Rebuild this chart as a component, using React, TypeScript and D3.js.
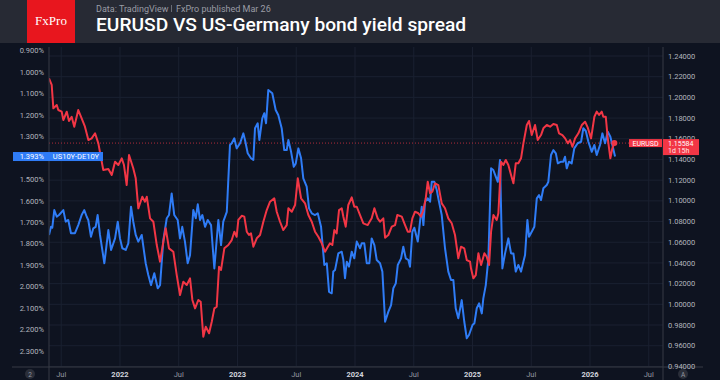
import React from 'react';
import * as d3 from 'd3';

// ---- data (dates as decimal years) ----
const redDates = [2021.396,2021.419,2021.433,2021.462,2021.475,2021.504,2021.518,2021.547,2021.566,2021.589,2021.611,2021.645,2021.674,2021.702,2021.731,2021.759,2021.788,2021.816,2021.858,2021.901,2021.930,2021.958,2021.986,2022.015,2022.034,2022.057,2022.077,2022.113,2022.134,2022.156,2022.190,2022.213,2022.228,2022.256,2022.284,2022.313,2022.341,2022.369,2022.389,2022.417,2022.454,2022.483,2022.511,2022.539,2022.568,2022.596,2022.616,2022.639,2022.667,2022.687,2022.709,2022.730,2022.758,2022.781,2022.803,2022.823,2022.843,2022.860,2022.888,2022.922,2022.951,2022.973,2022.993,2023.007,2023.036,2023.058,2023.079,2023.098,2023.115,2023.135,2023.164,2023.192,2023.220,2023.249,2023.277,2023.313,2023.334,2023.362,2023.390,2023.419,2023.433,2023.462,2023.490,2023.513,2023.541,2023.575,2023.603,2023.632,2023.660,2023.688,2023.717,2023.745,2023.768,2023.787,2023.807,2023.824,2023.844,2023.864,2023.887,2023.901,2023.921,2023.943,2023.972,2023.994,2024.015,2024.043,2024.071,2024.108,2024.142,2024.165,2024.193,2024.213,2024.241,2024.256,2024.284,2024.313,2024.341,2024.360,2024.398,2024.426,2024.449,2024.468,2024.488,2024.511,2024.539,2024.562,2024.582,2024.602,2024.619,2024.639,2024.658,2024.681,2024.709,2024.738,2024.766,2024.794,2024.823,2024.851,2024.879,2024.902,2024.930,2024.951,2024.979,2024.987,2025.007,2025.028,2025.050,2025.073,2025.101,2025.121,2025.141,2025.158,2025.178,2025.206,2025.220,2025.243,2025.262,2025.283,2025.305,2025.328,2025.348,2025.368,2025.390,2025.413,2025.433,2025.462,2025.481,2025.504,2025.532,2025.555,2025.583,2025.603,2025.632,2025.660,2025.688,2025.717,2025.736,2025.765,2025.788,2025.811,2025.830,2025.850,2025.873,2025.901,2025.930,2025.958,2025.981,2026.009,2026.037,2026.057,2026.077,2026.100,2026.113,2026.134,2026.151,2026.173,2026.190,2026.207];
const redValues = [1.2184,1.2120,1.1894,1.1926,1.1878,1.1862,1.1781,1.1862,1.1772,1.1813,1.1717,1.1878,1.1798,1.1717,1.1588,1.1604,1.1653,1.1556,1.1298,1.1308,1.1250,1.1378,1.1346,1.1411,1.1346,1.1153,1.1443,1.1315,1.1218,1.0928,1.1040,1.0992,1.1040,1.0831,1.0798,1.0573,1.0412,1.0605,1.0735,1.0541,1.0508,1.0283,1.0090,1.0218,1.0187,1.0251,1.0042,0.9961,1.0042,1.0025,0.9687,0.9783,0.9720,0.9832,0.9961,0.9977,1.0363,1.0332,1.0541,1.0573,1.0621,1.0702,1.0653,1.0815,1.0856,1.0847,1.0702,1.0670,1.0686,1.0557,1.0638,1.0670,1.0798,1.0911,1.0992,1.1025,1.0895,1.0798,1.0718,1.0766,1.0928,1.0895,1.0960,1.1218,1.1025,1.0976,1.0863,1.0798,1.0702,1.0653,1.0590,1.0508,1.0554,1.0590,1.0573,1.0718,1.0686,1.0911,1.0928,1.0847,1.0750,1.0960,1.1034,1.0943,1.0943,1.0863,1.0783,1.0766,1.0831,1.0928,1.0831,1.0798,1.0831,1.0644,1.0670,1.0750,1.0766,1.0863,1.0847,1.0766,1.0702,1.0702,1.0831,1.0895,1.0880,1.0847,1.0911,1.1025,1.1185,1.1073,1.1088,1.1170,1.1153,1.0976,1.0928,1.0831,1.0783,1.0670,1.0445,1.0557,1.0541,1.0428,1.0412,1.0348,1.0251,1.0283,1.0493,1.0380,1.0493,1.0460,1.0380,1.0702,1.0863,1.0815,1.0880,1.1378,1.1346,1.1395,1.1346,1.1250,1.1170,1.1363,1.1363,1.1411,1.1556,1.1733,1.1772,1.1636,1.1733,1.1588,1.1636,1.1701,1.1733,1.1717,1.1743,1.1733,1.1653,1.1636,1.1604,1.1556,1.1588,1.1523,1.1604,1.1653,1.1733,1.1765,1.1707,1.1604,1.1813,1.1862,1.1830,1.1862,1.1813,1.1813,1.1604,1.1411,1.1508,1.15584];

const blueDates = [2021.396,2021.413,2021.424,2021.441,2021.462,2021.481,2021.518,2021.538,2021.560,2021.583,2021.617,2021.645,2021.674,2021.696,2021.717,2021.730,2021.753,2021.773,2021.793,2021.810,2021.830,2021.867,2021.901,2021.924,2021.958,2021.981,2022.000,2022.020,2022.049,2022.071,2022.094,2022.113,2022.134,2022.156,2022.185,2022.219,2022.241,2022.264,2022.292,2022.321,2022.341,2022.369,2022.398,2022.417,2022.440,2022.462,2022.491,2022.511,2022.530,2022.553,2022.576,2022.596,2022.624,2022.645,2022.662,2022.681,2022.701,2022.724,2022.747,2022.775,2022.803,2022.837,2022.860,2022.879,2022.909,2022.936,2022.951,2022.973,2022.993,2023.022,2023.050,2023.064,2023.087,2023.115,2023.135,2023.149,2023.172,2023.186,2023.211,2023.228,2023.243,2023.262,2023.296,2023.325,2023.347,2023.376,2023.398,2023.419,2023.433,2023.456,2023.479,2023.496,2023.518,2023.541,2023.560,2023.589,2023.609,2023.632,2023.660,2023.683,2023.711,2023.739,2023.760,2023.779,2023.802,2023.815,2023.830,2023.858,2023.887,2023.901,2023.915,2023.930,2023.949,2023.972,2023.994,2024.015,2024.043,2024.057,2024.079,2024.100,2024.122,2024.142,2024.165,2024.185,2024.213,2024.233,2024.256,2024.284,2024.307,2024.326,2024.347,2024.364,2024.392,2024.411,2024.432,2024.454,2024.468,2024.488,2024.505,2024.534,2024.568,2024.582,2024.596,2024.619,2024.639,2024.653,2024.675,2024.696,2024.709,2024.738,2024.766,2024.794,2024.817,2024.837,2024.857,2024.879,2024.908,2024.930,2024.951,2024.970,2025.000,2025.016,2025.036,2025.056,2025.079,2025.092,2025.113,2025.135,2025.158,2025.177,2025.198,2025.215,2025.234,2025.254,2025.277,2025.305,2025.328,2025.348,2025.368,2025.390,2025.413,2025.433,2025.447,2025.467,2025.481,2025.504,2025.526,2025.547,2025.566,2025.583,2025.603,2025.632,2025.645,2025.668,2025.688,2025.709,2025.726,2025.753,2025.773,2025.787,2025.802,2025.821,2025.844,2025.866,2025.895,2025.924,2025.943,2025.964,2025.986,2026.015,2026.037,2026.057,2026.085,2026.105,2026.128,2026.151,2026.173,2026.190,2026.213];
const blueValues = [1.759,1.721,1.725,1.643,1.674,1.666,1.643,1.697,1.689,1.751,1.751,1.713,1.666,1.643,1.674,1.689,1.767,1.728,1.721,1.666,1.759,1.891,1.736,1.829,1.775,1.697,1.775,1.821,1.829,1.798,1.627,1.697,1.759,1.790,1.759,1.891,1.946,1.993,1.938,2.008,1.993,1.783,1.681,1.666,1.565,1.666,1.689,1.775,1.721,1.790,1.891,1.853,1.643,1.681,1.616,1.689,1.666,1.721,1.689,1.713,1.915,1.689,1.806,1.697,1.651,1.339,1.331,1.308,1.355,1.331,1.285,1.316,1.378,1.401,1.409,1.261,1.238,1.316,1.215,1.191,1.238,1.083,1.098,1.176,1.199,1.261,1.363,1.363,1.316,1.371,1.441,1.425,1.355,1.401,1.495,1.534,1.635,1.658,1.666,1.658,1.721,1.899,1.891,2.024,2.031,1.930,1.923,1.845,1.837,1.876,1.961,1.884,1.907,1.837,1.868,1.790,1.821,1.798,1.798,1.891,1.891,1.775,1.806,1.876,1.891,1.930,2.164,2.117,2.086,2.008,1.985,1.899,1.868,1.814,1.868,1.876,1.907,1.744,1.725,1.790,1.627,1.713,1.604,1.588,1.604,1.511,1.511,1.549,1.588,1.666,1.821,1.930,1.969,1.969,2.101,2.148,2.063,2.164,2.241,2.226,2.179,2.171,2.101,2.078,2.125,2.055,1.993,1.868,1.448,1.456,1.487,1.511,1.409,1.915,1.845,1.775,1.845,1.845,1.930,1.899,1.930,1.884,1.853,1.689,1.767,1.744,1.721,1.588,1.573,1.596,1.541,1.526,1.511,1.386,1.363,1.378,1.425,1.417,1.417,1.394,1.448,1.417,1.425,1.355,1.331,1.324,1.261,1.274,1.324,1.371,1.339,1.386,1.339,1.285,1.331,1.277,1.301,1.339,1.393];

const leftTicks = [0.9,1.0,1.1,1.2,1.3,1.4,1.5,1.6,1.7,1.8,1.9,2.0,2.1,2.2,2.3];
const rightTicks = [0.94,0.96,0.98,1.0,1.02,1.04,1.06,1.08,1.1,1.12,1.14,1.16,1.18,1.2,1.22,1.24];
const xTickValues = [2021.5,2022,2022.5,2023,2023.5,2024,2024.5,2025,2025.5,2026,2026.5];
const xTickLabels = ['Jul','2022','Jul','2023','Jul','2024','Jul','2025','Jul','2026','Jul'];

const lastSpread = 1.393;
const lastEur = 1.15584;

const FONT = 'Roboto, "Noto Sans", sans-serif';

export default function App() {
  const W = 720, H = 380;
  const L = 49, R = 663, T = 47, B = 367;
  const x = d3.scaleLinear().domain([2021.396, 2026.621]).range([L, R]);
  const yL = d3.scaleLinear().domain([1.0, 2.3]).range([72.3, 350.9]);
  const yR = d3.scaleLinear().domain([0.94, 1.24]).range([366.4, 56]);

  const red = redDates.map((d, i) => [d, redValues[i]] as [number, number]);
  const blue = blueDates.map((d, i) => [d, blueValues[i]] as [number, number]);
  const redLine = d3.line<[number, number]>().x(d => x(d[0])).y(d => yR(d[1]));
  const blueLine = d3.line<[number, number]>().x(d => x(d[0])).y(d => yL(d[1]));
  const lastRed = red[red.length - 1];

  const BG = '#0e1320';
  const HEADER = '#272a34';
  const RED = '#f23645';
  const BLUE = '#2f7cf6';
  const GRID = '#1a2030';
  const AXIS = '#363a45';
  const LBL = '#b2b5be';

  const ySp = yL(lastSpread);
  const yEu = yR(lastEur);
  // the price box covers the axis labels that lie under it
  const hiddenRight = (t: number) => Math.abs(yR(t) - (yEu + 4)) < 8;

  return (
    <svg width={W} height={H} style={{ position: 'absolute', left: 0, top: 0, display: 'block' }} fontFamily={FONT}>
      <defs>
        <clipPath id="plot"><rect x={L} y={T} width={R - L} height={B - T} /></clipPath>
        <clipPath id="pane"><rect x={0} y={T} width={W} height={H - T} /></clipPath>
      </defs>
      <rect x={0} y={0} width={W} height={H} fill={BG} />
      {/* grid */}
      <g>
        {rightTicks.map(t => (
          <line key={'h' + t} x1={L} x2={R} y1={yR(t)} y2={yR(t)} stroke={GRID} strokeWidth={1} />
        ))}
        {xTickValues.map(t => (
          <line key={'v' + t} x1={x(t)} x2={x(t)} y1={T} y2={B} stroke={GRID} strokeWidth={1} />
        ))}
      </g>
      {/* price line */}
      <line x1={L} x2={R} y1={yEu} y2={yEu} stroke={RED} strokeOpacity={0.7} strokeWidth={1} strokeDasharray="1 2" />
      {/* series */}
      <g clipPath="url(#plot)">
        <path d={blueLine(blue) || ''} fill="none" stroke={BLUE} strokeWidth={2} strokeLinejoin="round" />
        <path d={redLine(red) || ''} fill="none" stroke={RED} strokeWidth={2} strokeLinejoin="round" />
        <circle cx={x(lastRed[0])} cy={yR(lastRed[1])} r={3} fill={RED} />
      </g>
      {/* axes lines */}
      <line x1={L} x2={L} y1={T} y2={H} stroke={AXIS} strokeWidth={1} />
      <line x1={R} x2={R} y1={T} y2={H} stroke={AXIS} strokeWidth={1} />
      <line x1={12} x2={703} y1={B} y2={B} stroke={AXIS} strokeWidth={1} />
      {/* left axis labels */}
      <g clipPath="url(#pane)">
        {leftTicks.map(t => (
          <text key={'l' + t} x={44} y={yL(t)} dy="0.35em" textAnchor="end" fontSize={7.5} fill={LBL}>
            {t.toFixed(3)}%
          </text>
        ))}
      </g>
      {/* right axis labels */}
      {rightTicks.filter(t => !hiddenRight(t)).map(t => (
        <text key={'r' + t} x={668} y={yR(t)} dy="0.35em" fontSize={7.5} fill={LBL}>
          {t.toFixed(5)}
        </text>
      ))}
      {/* x axis labels */}
      {xTickValues.map((t, i) => (
        <text key={'x' + t} x={x(t)} y={377} textAnchor="middle" fontSize={7.5}
          fontWeight={xTickLabels[i] === 'Jul' ? 400 : 700}
          fill={xTickLabels[i] === 'Jul' ? '#9598a1' : '#d1d4dc'}>
          {xTickLabels[i]}
        </text>
      ))}
      <circle cx={30} cy={374} r={5} fill="#2a2e39" />
      <text x={30} y={376.5} textAnchor="middle" fontSize={6.5} fill="#9598a1">2</text>
      <circle cx={683} cy={374} r={5} fill="#2a2e39" />
      <text x={683} y={376.5} textAnchor="middle" fontSize={6.5} fill="#9598a1">A</text>
      {/* left label */}
      <rect x={13} y={ySp - 4.5} width={36} height={9} fill={BLUE} />
      <text x={44} y={ySp} dy="0.35em" textAnchor="end" fontSize={7.5} fill="#ffffff">{lastSpread.toFixed(3)}%</text>
      <rect x={49} y={ySp - 4.5} width={54} height={9} fill={BLUE} />
      <text x={76} y={ySp} dy="0.35em" textAnchor="middle" fontSize={7.5} fill="#ffffff">US10Y-DE10Y</text>
      {/* right label */}
      <rect x={629} y={yEu - 4} width={33} height={8} fill={RED} />
      <text x={645.5} y={yEu} dy="0.36em" textAnchor="middle" fontSize={7} fill="#ffffff">EURUSD</text>
      <rect x={663} y={yEu - 4} width={36} height={16} fill={RED} />
      <text x={668} y={yEu} dy="0.36em" fontSize={7} fill="#ffffff">{lastEur.toFixed(5)}</text>
      <text x={668} y={yEu + 7.2} dy="0.36em" fontSize={7} fill="#ffe4e6">1d 15h</text>
      {/* header */}
      <rect x={0} y={0} width={W} height={43} fill={HEADER} />
      <rect x={27} y={0} width={48} height={43} fill="#e8161e" />
      <text x={51} y={25} textAnchor="middle" fontSize={13} fontFamily='"Liberation Serif", "DejaVu Serif", serif' fill="#ffffff">FxPro</text>
      <text x={96} y={12} fontSize={9} fill="#9a9ca5">Data: TradingView</text>
      <line x1={171.5} x2={171.5} y1={5} y2={12} stroke="#6a6d76" strokeWidth={1} />
      <text x={176} y={12} fontSize={9} fill="#9a9ca5">FxPro published Mar 26</text>
      <text x={96} y={31} fontSize={19.2} fontWeight={500} fill="#ffffff">EURUSD VS US-Germany bond yield spread</text>
    </svg>
  );
}
